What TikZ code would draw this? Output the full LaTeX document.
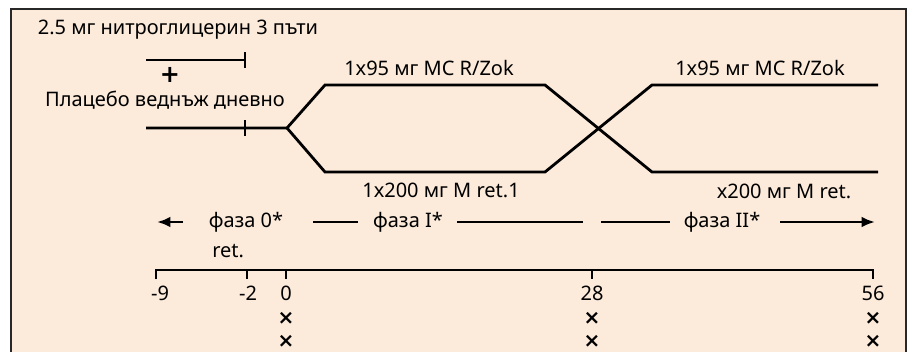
\documentclass[tikz,border=0pt]{standalone}
\usepackage{fontspec}
\setmainfont[Script=Cyrillic,Language=Bulgarian]{Noto Sans}
\newfontfamily\symfont{DejaVu Sans}
\usetikzlibrary{arrows.meta}
\definecolor{bg}{RGB}{252,234,218}
\definecolor{border}{RGB}{40,40,40}
\begin{document}
\begin{tikzpicture}[x=0.75pt,y=-0.75pt,
  lbl/.style={inner sep=0pt, font=\fontsize{15pt}{17pt}\selectfont},
  ln/.style={line width=2.1pt},
  mk/.style={inner sep=0pt, font=\fontsize{15pt}{17pt}\symfont\bfseries}]
\useasboundingbox (0,0) rectangle (912,351);
\clip (0,0) rectangle (912,351);
\draw[fill=bg, draw=border, line width=1pt] (11,9) rectangle (906,380);
% top texts
\node[lbl] (t1) at (178,30) {2.5 мг нитроглицерин 3 пъти};
\node[inner sep=0pt, font=\fontsize{18pt}{20pt}\symfont\bfseries] (plus) at (170,75) {+};
\node[lbl] (t2) at (165,100) {Плацебо веднъж дневно};
% short nitro line
\coordinate (a1) at (146,60); \coordinate (a2) at (245,60);
\draw[ln] (a1) -- (a2);
\draw[ln] ([yshift=6pt]a2) -- ([yshift=-6pt]a2);
% placebo + branches
\coordinate (b1) at (146,128); \coordinate (bt) at (245,128); \coordinate (j0) at (287,128);
\coordinate (u1) at (325,85); \coordinate (u2) at (545,85);
\coordinate (l1) at (325,172); \coordinate (l2) at (545,172);
\coordinate (u3) at (652,85); \coordinate (u4) at (878,85);
\coordinate (l3) at (652,172); \coordinate (l4) at (878,172);
\draw[ln] ([yshift=6pt]bt) -- ([yshift=-6pt]bt);
\draw[ln, line join=miter] (b1) -- (j0) -- (u1) -- (u2) -- (l3) -- (l4);
\draw[ln, line join=miter] (j0) -- (l1) -- (l2) -- (u3) -- (u4);
\node[lbl] (m1) at (429,68) {1x95 мг MC R/Zok};
\node[lbl] (m2) at (760,68) {1x95 мг MC R/Zok};
\node[lbl] (m3) at (441,190) {1x200 мг M ret.1};
\node[lbl] (m4) at (784,191) {x200 мг M ret.};
% phases
\node[lbl] (p0) at (246,222) {фаза 0*};
\node[lbl, anchor=west] (r0) at (212,251) {ret.};
\node[lbl] (p1) at (408,222) {фаза I*};
\node[lbl] (p2) at (722,222) {фаза II*};
\coordinate (s0a) at (183,222); \coordinate (s0b) at (157,222);
\coordinate (s1a) at (313,222); \coordinate (s1b) at (358,222);
\coordinate (s2a) at (457,222); \coordinate (s2b) at (583,222);
\coordinate (s3a) at (601,222); \coordinate (s3b) at (670,222);
\coordinate (s4a) at (780,222); \coordinate (s4b) at (875,222);
\draw[ln, -{Latex[length=10pt,width=8pt]}] (s0a) -- (s0b);
\draw[ln] (s1a) -- (s1b);
\draw[ln] (s2a) -- (s2b);
\draw[ln] (s3a) -- (s3b);
\draw[ln, -{Latex[length=10pt,width=8pt]}] (s4a) -- (s4b);
% axis
\coordinate (x9) at (156,270); \coordinate (x2) at (247,270); \coordinate (x0) at (286,270);
\coordinate (x28) at (592,270); \coordinate (x56) at (873,270);
\draw[ln, line join=miter] ([yshift=-7pt]x9) -- (x9) -- (x56) -- ([yshift=-7pt]x56);
\draw[ln] (x2) -- ([yshift=-7pt]x2);
\draw[ln] (x0) -- ([yshift=-7pt]x0);
\draw[ln] (x28) -- ([yshift=-7pt]x28);
\node[lbl] (n9) at (160,293) {-9};
\node[lbl] (n2) at (248,293) {-2};
\node[lbl] (n0) at (286,293) {0};
\node[lbl] (n28) at (592,293) {28};
\node[lbl] (n56) at (873,293) {56};
\foreach \xx/\nm in {286/a,592/b,873/c}{
  \node[mk] (xa\nm) at (\xx,318) {×};
  \node[mk] (xb\nm) at (\xx,341) {×};
}
\end{tikzpicture}
\end{document}
